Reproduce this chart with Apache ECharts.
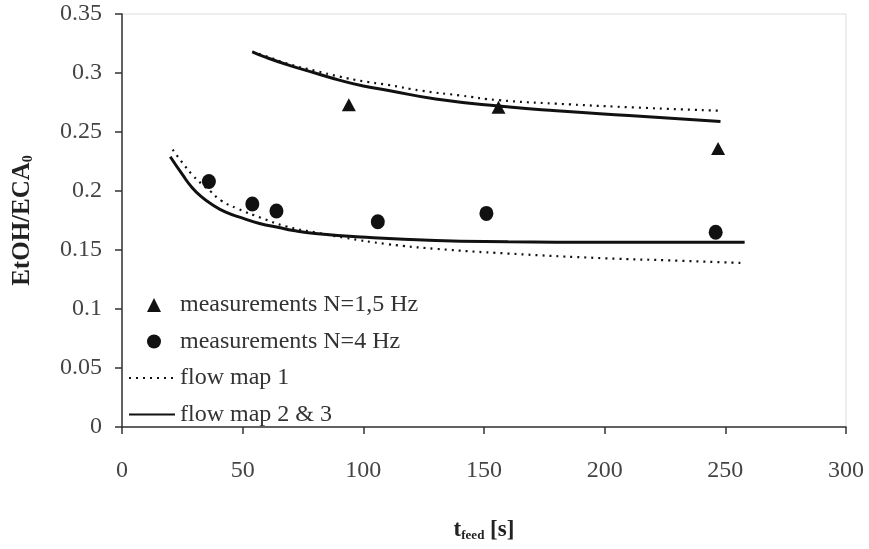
<!DOCTYPE html>
<html>
<head>
<meta charset="utf-8">
<script src="https://cdn.jsdelivr.net/npm/echarts@6/dist/echarts.min.js"></script>
<style>
  html, body { margin: 0; padding: 0; background: #fff; }
  #chart { width: 869px; height: 549px; }
</style>
</head>
<body>
<div id="chart"></div>
<script>
// Measured EtOH/ECA0 ratios versus feed time
const measN15 = [[94, 0.273], [156, 0.271], [247, 0.236]];
const measN4 = [[36, 0.208], [54, 0.189], [64, 0.183], [106, 0.174], [151, 0.181], [246, 0.165]];

// Model curves, upper branch (N = 1.5 Hz)
const map1Upper = [[54, 0.318], [60, 0.314], [70, 0.307], [80, 0.302], [90, 0.297], [100, 0.293], [110, 0.290], [124, 0.285], [140, 0.281], [156, 0.277], [180, 0.274], [210, 0.271], [248, 0.268]];
const map23Upper = [[54, 0.318], [60, 0.313], [70, 0.306], [80, 0.300], [90, 0.294], [100, 0.289], [111, 0.285], [130, 0.278], [156, 0.272], [180, 0.268], [210, 0.264], [248, 0.259]];

// Model curves, lower branch (N = 4 Hz)
const map1Lower = [[21, 0.235], [25, 0.224], [29, 0.214], [33, 0.206], [36.5, 0.200], [41, 0.192], [48, 0.185], [58, 0.177], [68, 0.170], [80, 0.165], [92, 0.1605], [110, 0.155], [130, 0.151], [160, 0.147], [200, 0.143], [230, 0.141], [257, 0.139]];
const map23Lower = [[20, 0.229], [25, 0.214], [29, 0.203], [33, 0.195], [37, 0.189], [43, 0.182], [50, 0.177], [57, 0.1725], [65, 0.169], [71, 0.1665], [80, 0.164], [99, 0.161], [130, 0.158], [160, 0.157], [200, 0.1565], [258, 0.1565]];

const xTicks = { min: 0, max: 300, interval: 50 };
const yTicks = { min: 0, max: 0.35, interval: 0.05 };

const serif = '"Liberation Serif", "DejaVu Serif", serif';
const chart = echarts.init(document.getElementById('chart'));

const dotted = { color: '#111', width: 2.2, type: [2, 5] };
const solid = { color: '#111', width: 3, type: 'solid' };
// line series carry no point markers, so their legend marker stays invisible
const hiddenMarker = { color: 'rgba(0,0,0,0)' };

// legend glyphs: 46x14 box, marker placed left of centre
const triIcon = 'path://M0,0 M46,14 M25,0 L32,14 L18,14 Z';
const dotIcon = 'path://M0,0 M46,14 M18,7 A7,7 0 1,1 32,7 A7,7 0 1,1 18,7 Z';

chart.setOption({
  animation: false,
  backgroundColor: '#fff',
  grid: {
    left: 122, right: 23, top: 14, bottom: 122,
    outerBoundsMode: 'none', containLabel: false,
    show: true, borderColor: '#dcdcdc', borderWidth: 1
  },
  legend: {
    orient: 'vertical',
    left: 123,
    top: 288,
    itemGap: 12.5,
    itemWidth: 46,
    itemHeight: 14,
    textStyle: { fontFamily: serif, fontSize: 24, color: '#333' },
    data: [
      { name: 'measurements N=1,5 Hz', icon: triIcon, itemStyle: { color: '#111', opacity: 1 } },
      { name: 'measurements N=4 Hz', icon: dotIcon, itemStyle: { color: '#111', opacity: 1 } },
      { name: 'flow map 1' },
      { name: 'flow map 2 & 3' }
    ]
  },
  xAxis: {
    type: 'value',
    min: xTicks.min, max: xTicks.max, interval: xTicks.interval,
    name: 't{sub|feed} [s]',
    nameLocation: 'middle',
    nameGap: 92,
    nameTextStyle: {
      fontFamily: serif, fontSize: 23, fontWeight: 'bold', color: '#222',
      rich: { sub: { fontFamily: serif, fontSize: 13, fontWeight: 'bold', color: '#222', verticalAlign: 'bottom', padding: [9, 0, 0, 0] } }
    },
    axisLine: { show: true, lineStyle: { color: '#333', width: 1.5 } },
    axisTick: { show: true, length: 7, lineStyle: { color: '#333', width: 1.5 } },
    axisLabel: { fontFamily: serif, fontSize: 24, color: '#444', margin: 32 },
    splitLine: { show: false }
  },
  yAxis: {
    type: 'value',
    min: yTicks.min, max: yTicks.max, interval: yTicks.interval,
    name: 'EtOH/ECA{sub|0}',
    nameLocation: 'middle',
    nameGap: 87,
    nameRotate: 90,
    nameTextStyle: {
      fontFamily: serif, fontSize: 25, fontWeight: 'bold', color: '#222',
      rich: { sub: { fontFamily: serif, fontSize: 14, fontWeight: 'bold', color: '#222', verticalAlign: 'bottom', padding: [9, 0, 0, 0] } }
    },
    axisLine: { show: true, lineStyle: { color: '#333', width: 1.5 } },
    axisTick: { show: true, length: 7, lineStyle: { color: '#333', width: 1.5 } },
    axisLabel: { fontFamily: serif, fontSize: 24, color: '#444', margin: 20 },
    splitLine: { show: false }
  },
  series: [
    {
      name: 'measurements N=1,5 Hz', type: 'scatter', data: measN15,
      symbol: 'triangle', symbolSize: [14, 13], itemStyle: { color: '#111', opacity: 1 }, z: 5
    },
    {
      name: 'measurements N=4 Hz', type: 'scatter', data: measN4,
      symbol: 'circle', symbolSize: [14, 15], itemStyle: { color: '#111', opacity: 1 }, z: 5
    },
    {
      name: 'flow map 1', type: 'line', data: map1Upper, smooth: true,
      symbol: 'circle', showSymbol: false, lineStyle: dotted, itemStyle: hiddenMarker
    },
    {
      name: 'flow map 1', type: 'line', data: map1Lower, smooth: true,
      symbol: 'circle', showSymbol: false, lineStyle: dotted, itemStyle: hiddenMarker
    },
    {
      name: 'flow map 2 & 3', type: 'line', data: map23Upper, smooth: true,
      symbol: 'circle', showSymbol: false, lineStyle: solid, itemStyle: hiddenMarker
    },
    {
      name: 'flow map 2 & 3', type: 'line', data: map23Lower, smooth: true,
      symbol: 'circle', showSymbol: false, lineStyle: solid, itemStyle: hiddenMarker
    }
  ]
});
</script>
</body>
</html>
